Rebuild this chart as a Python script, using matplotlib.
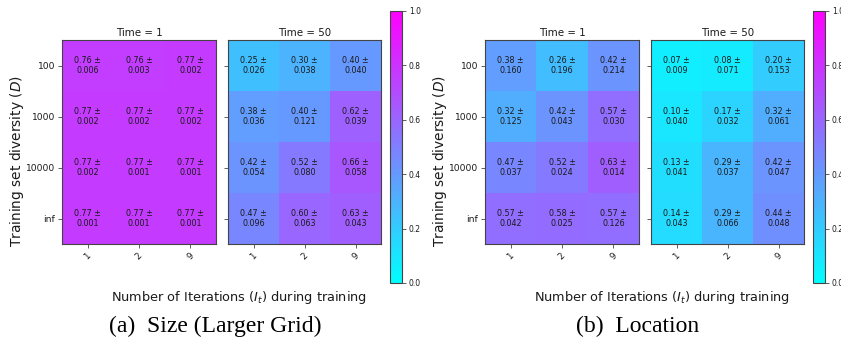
import numpy as np
import matplotlib
matplotlib.use("Agg")
import matplotlib.pyplot as plt
from matplotlib.colors import Normalize

W, H = 841, 345
fig = plt.figure(figsize=(W / 100, H / 100), dpi=100)

row_labels = ["100", "1000", "10000", "inf"]
col_labels = ["1", "2", "9"]
time_titles = ["Time = 1", "Time = 50"]

size_t1_mean = [[0.76, 0.76, 0.77], [0.77, 0.77, 0.77], [0.77, 0.77, 0.77], [0.77, 0.77, 0.77]]
size_t1_std = [[0.006, 0.003, 0.002], [0.002, 0.002, 0.002], [0.002, 0.001, 0.001], [0.001, 0.001, 0.001]]
size_t50_mean = [[0.25, 0.30, 0.40], [0.38, 0.40, 0.62], [0.42, 0.52, 0.66], [0.47, 0.60, 0.63]]
size_t50_std = [[0.026, 0.038, 0.040], [0.036, 0.121, 0.039], [0.054, 0.080, 0.058], [0.096, 0.063, 0.043]]

loc_t1_mean = [[0.38, 0.26, 0.42], [0.32, 0.42, 0.57], [0.47, 0.52, 0.63], [0.57, 0.58, 0.57]]
loc_t1_std = [[0.160, 0.196, 0.214], [0.125, 0.043, 0.030], [0.037, 0.024, 0.014], [0.042, 0.025, 0.126]]
loc_t50_mean = [[0.07, 0.08, 0.20], [0.10, 0.17, 0.32], [0.13, 0.29, 0.42], [0.14, 0.29, 0.44]]
loc_t50_std = [[0.009, 0.071, 0.153], [0.040, 0.032, 0.061], [0.041, 0.037, 0.047], [0.043, 0.066, 0.048]]

captions = ["(a)  Size (Larger Grid)", "(b)  Location"]
xlabel = "Number of Iterations ($I_t$) during training"
ylabel = "Training set diversity ($D$)"

cmap = plt.get_cmap("cool")
norm = Normalize(0, 1)
spine_col = "#444444"
text_col = "#1a1a1a"


def rect(x0, y0, x1, y1):
    return [x0 / W, 1 - y1 / H, (x1 - x0) / W, (y1 - y0) / H]


def heat(ax, mean, std, title, show_ylabels):
    m = np.array(mean)
    s = np.array(std)
    ax.pcolormesh(m, cmap=cmap, norm=norm)
    ax.set_xlim(0, m.shape[1])
    ax.set_ylim(m.shape[0], 0)
    for i in range(m.shape[0]):
        for j in range(m.shape[1]):
            ax.text(j + 0.5, i + 0.5, f"{m[i, j]:.2f} \u00b1\n{s[i, j]:.3f}",
                    ha="center", va="center", fontsize=5.8, color=text_col,
                    linespacing=1.15)
    ax.set_xticks(np.arange(m.shape[1]) + 0.5)
    ax.set_xticklabels(col_labels, rotation=45, fontsize=6.3, color=text_col)
    ax.set_yticks(np.arange(m.shape[0]) + 0.5)
    if show_ylabels:
        ax.set_yticklabels(row_labels, fontsize=6.6, color=text_col)
    else:
        ax.set_yticklabels([])
    ax.tick_params(length=3, width=0.6, color=spine_col, pad=2)
    for sp in ax.spines.values():
        sp.set_color(spine_col)
        sp.set_linewidth(0.8)
    ax.set_title(title, fontsize=7.4, pad=3, color=text_col)


panels = [
    (0, size_t1_mean, size_t1_std, size_t50_mean, size_t50_std, captions[0]),
    (423, loc_t1_mean, loc_t1_std, loc_t50_mean, loc_t50_std, captions[1]),
]

for off, m1, s1, m2, s2, cap in panels:
    ax1 = fig.add_axes(rect(62 + off, 40, 216 + off, 244))
    ax2 = fig.add_axes(rect(228 + off, 40, 381 + off, 244))
    cax = fig.add_axes(rect(390 + off, 11, 402 + off, 283))
    heat(ax1, m1, s1, time_titles[0], True)
    heat(ax2, m2, s2, time_titles[1], False)
    cb = fig.colorbar(plt.cm.ScalarMappable(norm=norm, cmap=cmap), cax=cax)
    cb.set_ticks([0.0, 0.2, 0.4, 0.6, 0.8, 1.0])
    cb.ax.tick_params(labelsize=5.5, length=3, width=0.6, color=spine_col, pad=2,
                      labelcolor=text_col)
    cb.outline.set_edgecolor(spine_col)
    cb.outline.set_linewidth(0.8)
    fig.text((239 + off) / W, 1 - 297 / H, xlabel, ha="center", va="center",
             fontsize=9.3, color=text_col)
    fig.text((17 + off) / W, 1 - 161 / H, ylabel, ha="center", va="center",
             rotation=90, fontsize=9.9, color=text_col)
    fig.text((215 + off) / W, 1 - 326 / H, cap, ha="center", va="center",
             fontsize=17, family="Liberation Serif")

fig.savefig("out.png", dpi=100)
